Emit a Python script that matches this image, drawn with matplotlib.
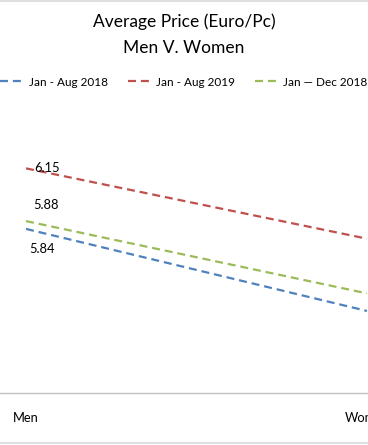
import matplotlib
matplotlib.use("Agg")
import matplotlib.pyplot as plt
from matplotlib.lines import Line2D

plt.rcParams['font.family'] = ['Lato', 'DejaVu Sans']

categories = ["Men", "Women"]
aug_2018 = [5.84, 5.42]
aug_2019 = [6.15, 5.79]
dec_2018 = [5.88, 5.51]
series_names = ["Jan - Aug 2018", "Jan - Aug 2019", "Jan \u2014 Dec 2018"]

W, H = 368, 445
fig = plt.figure(figsize=(W / 100, H / 100), dpi=100)

# axes: bottom spine at y=393px, top at y=100px
ax = fig.add_axes([0, (H - 393) / H, 1, 293 / H])
x = range(len(categories))
dash = (3.6, 2.2)
l1, = ax.plot(x, aug_2018, color='#4F81BD', lw=1.6, ls=(0, dash))
l2, = ax.plot(x, aug_2019, color='#C0504D', lw=1.6, ls=(0, dash))
l3, = ax.plot(x, dec_2018, color='#9BBB59', lw=1.6, ls=(0, dash))

ax.set_xlim(-26 / 341, 1 + 1 / 341)
ax.set_ylim(5, 6.5)
for s in ['top', 'left', 'right']:
    ax.spines[s].set_visible(False)
ax.spines['bottom'].set_color('#bfbfbf')
ax.spines['bottom'].set_linewidth(1.0)
ax.set_yticks([])
ax.set_xticks(list(x))
ax.set_xticklabels(categories, fontsize=9.3, color='#000000')
ax.tick_params(axis='x', length=0, pad=14)

# data labels on the Men points
ax.annotate(f"{aug_2019[0]:.2f}", (0, aug_2019[0]), xytext=(15, 0),
            textcoords='offset points', ha='center', va='center', fontsize=9.3)
ax.annotate(f"{dec_2018[0]:.2f}", (0, dec_2018[0]), xytext=(14.4, 11.3),
            textcoords='offset points', ha='center', va='center', fontsize=9.3)
ax.annotate(f"{aug_2018[0]:.2f}", (0, aug_2018[0]), xytext=(11.2, -14.7),
            textcoords='offset points', ha='center', va='center', fontsize=9.3)

fig.text(0.5, 1 - 22 / H, "Average Price (Euro/Pc)", ha='center', va='center', fontsize=12.5)
fig.text(0.5, 1 - 48 / H, "Men V. Women", ha='center', va='center', fontsize=12.5)

fig.legend([l1, l2, l3], series_names, loc='center', bbox_to_anchor=(0.5, 1 - 82 / H),
           ncol=3, frameon=False, fontsize=8.5, handlelength=2.1, handletextpad=0.3,
           columnspacing=1.7, borderaxespad=0, borderpad=0)

# chart border lines
fig.add_artist(Line2D([0, 1], [1 - 1 / H, 1 - 1 / H], color='#d9d9d9', lw=1.2))
fig.add_artist(Line2D([0, 1], [2 / H, 2 / H], color='#d9d9d9', lw=1.2))

fig.savefig("out.png", dpi=100)
